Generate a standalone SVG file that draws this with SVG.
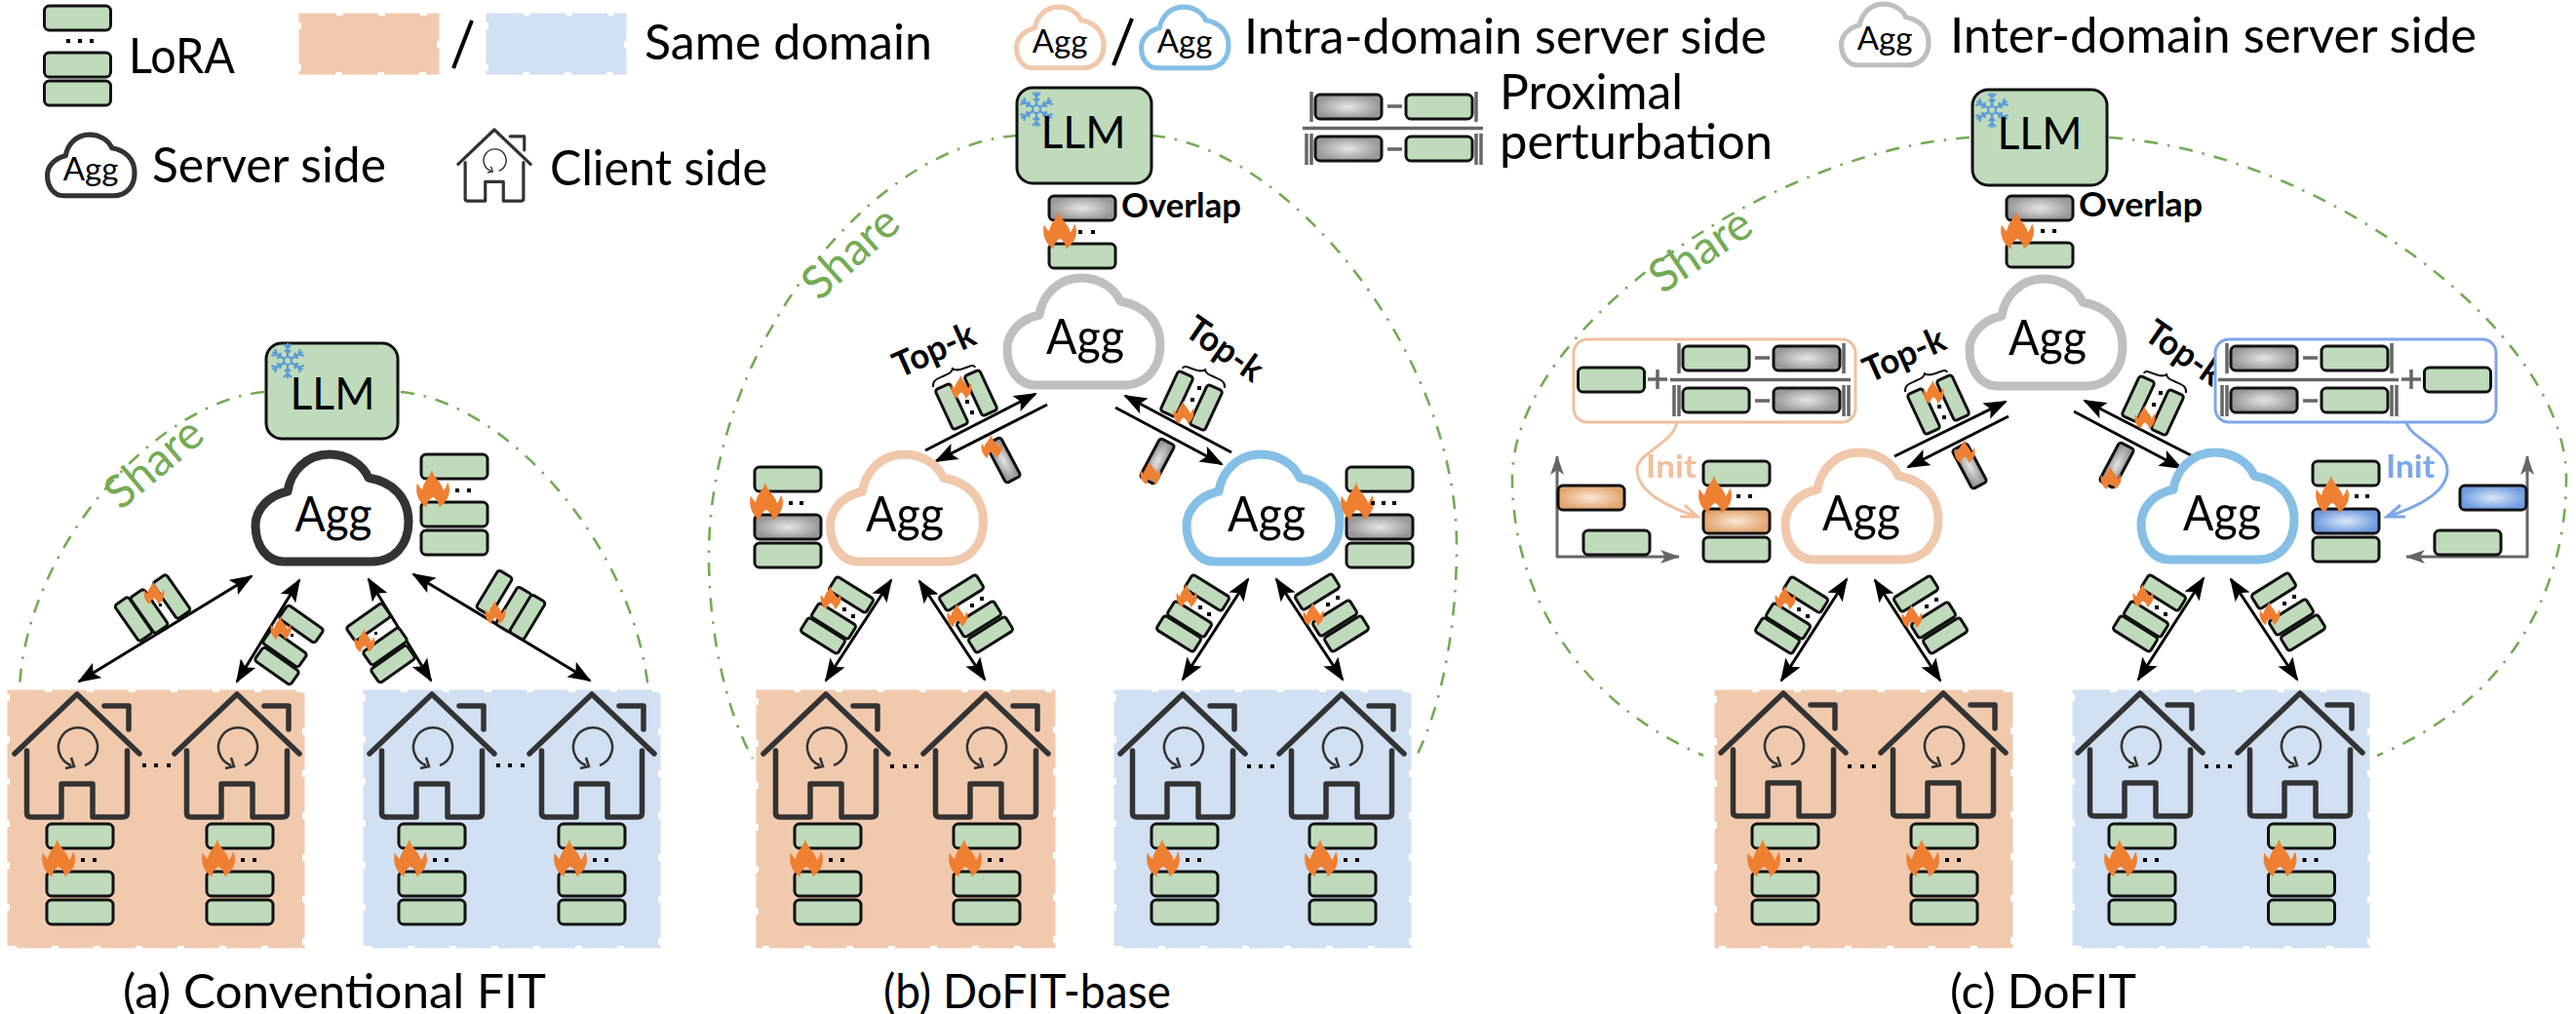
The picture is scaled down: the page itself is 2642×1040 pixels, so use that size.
<svg xmlns="http://www.w3.org/2000/svg" width="2642" height="1040" viewBox="0 0 2642 1040">
<style>
text{font-family:Lato,"Open Sans",sans-serif;fill:#000}
.g{fill:#BFDBBC;stroke:#111;stroke-width:3}
.gy{fill:url(#rg);stroke:#111;stroke-width:3}
.or{fill:url(#ro);stroke:#111;stroke-width:3}
.bl{fill:url(#rb);stroke:#111;stroke-width:3}
.dom-o{fill:#F1CAAE;stroke:#F1CAAE;stroke-width:5;stroke-dasharray:36 7}
.dom-b{fill:#D1E0F2;stroke:#D1E0F2;stroke-width:5;stroke-dasharray:36 7}
.cl{fill:#fff;stroke-linejoin:round}
.k{stroke:#333;stroke-width:9}.cp{stroke:#F0C8AC;stroke-width:9}.cb{stroke:#85BFE6;stroke-width:9}.cg{stroke:#BFBFBF;stroke-width:9}
.h{fill:none;stroke:#333;stroke-width:5.5;stroke-linecap:round;stroke-linejoin:round}
.hc{fill:none;stroke:#333;stroke-width:2.5}
.share{fill:none;stroke:#74AB55;stroke-width:2.6;stroke-dasharray:14 10 2.5 10}
.ar{stroke:#000;stroke-width:3;fill:none}
.tx{font-size:47px;text-anchor:middle}
.leg{font-size:50px}
.cap{font-size:49px}
.agg{font-size:50px;text-anchor:middle}
.aggs{font-size:58px;text-anchor:middle}
.sh{font-size:47px;fill:#74AB55;text-anchor:middle}
.tk{font-size:36px;font-weight:700;text-anchor:middle}
.ov{font-size:34px;font-weight:700}
.op{stroke:#666;stroke-width:3.5;fill:none}
.ax{stroke:#666;stroke-width:3;fill:none;stroke-linejoin:round}
.dots{fill:#000}
</style>
<defs>
<radialGradient id="rg"><stop offset="0" stop-color="#E6E6E6"/><stop offset="1" stop-color="#989898"/></radialGradient>
<radialGradient id="ro"><stop offset="0" stop-color="#FBE7D8"/><stop offset="1" stop-color="#E2A56E"/></radialGradient>
<radialGradient id="rb"><stop offset="0" stop-color="#DDE8F8"/><stop offset="1" stop-color="#6E9BE0"/></radialGradient>
<marker id="a" viewBox="0 0 24 18" refX="22" refY="9" markerWidth="24" markerHeight="18" markerUnits="userSpaceOnUse" orient="auto-start-reverse"><path d="M0,0 L24,9 L0,18 L5,9Z" fill="#000"/></marker>
<marker id="ga" viewBox="0 0 20 14" refX="19" refY="7" markerWidth="20" markerHeight="14" markerUnits="userSpaceOnUse" orient="auto-start-reverse"><path d="M0,0 L20,7 L0,14 L5,7Z" fill="#666"/></marker>
<rect id="b" x="-34" y="0" width="68" height="25" rx="5"/>
<rect id="m" x="-22.5" y="-8.5" width="45" height="17" rx="3"/>
<path id="flame" fill="#EF7F31" transform="scale(1.08)" d="M-1,-18 C1,-9 9,-5 10,2 C12,0 13,-3 14,-6 C17,0 17,10 6,18 C6,13 3,10 0,8 C-3,10 -6,13 -6,18 C-14,13 -17,4 -15,-5 C-13,-2 -12,0 -10,1 C-9,-7 -3,-10 -1,-18 Z"/>
<path id="cloud" d="M-49,54 L41,54 C65,54 79,36 79,13 C79,-12 62,-28 38,-32 C32,-46 16,-56 -2,-56 C-26,-56 -42,-38 -45,-18 C-64,-14 -78,0 -78,17 C-78,38 -66,54 -49,54 Z"/>
<g id="house">
<path class="h" d="M-64,61 L0,0 L64,61"/>
<path class="h" d="M-51.5,58 V122 Q-51.5,126 -47,126 H-16 V92 H16 V126 H47 Q51.5,126 51.5,122 V58"/>
<path class="h" d="M28,12 H53 V36"/>
<path class="hc" d="M8,73 A20,20 0 1 0 -6,73 M-12,76 L-3,74 L-6,65"/>
</g>
<g id="stack">
<use href="#b" class="g" y="0"/><use href="#b" class="g" y="49"/><use href="#b" class="g" y="78"/>
<use href="#flame" x="-22" y="35"/>
<path class="dots" d="M1,35h4v4h-4zM13,35h4v4h-4z"/>
</g>
<g id="snow" fill="none" stroke="#5B9BD5" stroke-width="2.2">
<g id="sp"><path d="M0,-4 V-18 M-4,-17 L0,-13 L4,-17 M-3,-11 L0,-8 L3,-11"/></g>
<use href="#sp" transform="rotate(60)"/><use href="#sp" transform="rotate(120)"/><use href="#sp" transform="rotate(180)"/><use href="#sp" transform="rotate(240)"/><use href="#sp" transform="rotate(300)"/>
<circle r="4"/>
</g>
<g id="frl">
<path class="op" d="M-4,-3 V28 M165,-3 V28 M-13,34.500 H172 M-9,40 V72 M-4,40 V72 M165,40 V72 M170,40 V72 M74,12 H89 M74,56 H89"/>
</g>
<g id="frac-gy"><use href="#frl"/><use href="#b" class="gy" x="34" y="0"/><use href="#b" class="g" x="127" y="0"/><use href="#b" class="gy" x="34" y="43"/><use href="#b" class="g" x="127" y="43"/></g>
<g id="frac-gr"><use href="#frl"/><use href="#b" class="g" x="34" y="0"/><use href="#b" class="gy" x="127" y="0"/><use href="#b" class="g" x="34" y="43"/><use href="#b" class="gy" x="127" y="43"/></g>
<g id="miniL">
<use href="#m" class="g" transform="translate(18,-27) rotate(32)"/>
<use href="#m" class="g" transform="rotate(32)"/>
<use href="#m" class="g" transform="translate(-11,15) rotate(32)"/>
<use href="#flame" transform="translate(-3,-24) scale(.62)"/>
<path class="dots" d="M9,-14h4v4h-4zM18,-7h4v4h-4z"/>
</g>
<g id="miniR">
<use href="#m" class="g" transform="translate(-18,-27) rotate(-32)"/>
<use href="#m" class="g" transform="rotate(-32)"/>
<use href="#m" class="g" transform="translate(12,16) rotate(-32)"/>
<use href="#flame" transform="translate(-22,-4) scale(.62)"/>
<path class="dots" d="M-9,-16h4v4h-4zM1,-23h4v4h-4z"/>
</g>
<g id="topkL">
<use href="#m" class="g" transform="translate(-15,7) rotate(65)"/>
<use href="#m" class="g" transform="translate(15,-7) rotate(65)"/>
<use href="#flame" transform="translate(-5,-13) scale(.62)"/>
<path class="dots" d="M-1,0h4v4h-4zM4,11h4v4h-4z"/>
<path d="M-34,-13 C-35,-21 -28,-22 -22,-25 C-17,-27 -15,-28 -14,-32 C-11,-30 -8,-30 -3,-32 C3,-34 8,-37 9,-33" fill="none" stroke="#111" stroke-width="2"/>
</g>
<g id="topkR">
<use href="#m" class="g" transform="translate(-15,-7) rotate(-65)"/>
<use href="#m" class="g" transform="translate(15,7) rotate(-65)"/>
<use href="#flame" transform="translate(-8,12) scale(.62)"/>
<path class="dots" d="M6,-15h4v4h-4zM-1,-3h4v4h-4z"/>
<path d="M34,-13 C35,-21 28,-22 22,-25 C17,-27 15,-28 14,-32 C11,-30 8,-30 3,-32 C-3,-34 -8,-37 -9,-33" fill="none" stroke="#111" stroke-width="2"/>
</g>
</defs>
<rect width="2642" height="1040" fill="#fff"/>

<g id="domains">
<rect class="dom-o" x="309" y="16" width="139" height="58"/>
<rect class="dom-b" x="501" y="16" width="139" height="58"/>
<rect class="dom-o" x="10" y="710" width="300" height="260"/>
<rect class="dom-b" x="375" y="710" width="300" height="260"/>
<rect class="dom-o" x="778" y="710" width="302" height="260"/>
<rect class="dom-b" x="1145" y="710" width="300" height="260"/>
<rect class="dom-o" x="1761" y="710" width="301" height="260"/>
<rect class="dom-b" x="2128" y="710" width="300" height="260"/>
</g>

<g id="connectors">
<path class="share" d="M271,402 C160,412 28,560 20,705"/>
<path class="share" d="M411,402 C520,412 650,560 665,708"/>
<path class="share" d="M1043,139 C890,150 727,360 727,570 C727,650 745,730 772,778"/>
<path class="share" d="M1181,139 C1320,150 1494,360 1494,560 C1494,640 1480,720 1453,775"/>
<path class="share" d="M2020,141 C1810,155 1551,340 1551,490 C1551,610 1620,720 1747,775"/>
<path class="share" d="M2163,141 C2380,155 2632,340 2632,490 C2632,610 2570,720 2438,775"/>
<path class="ar" marker-start="url(#a)" marker-end="url(#a)" d="M258,591 L81,699"/>
<path class="ar" marker-start="url(#a)" marker-end="url(#a)" d="M307,595 L243,699"/>
<path class="ar" marker-start="url(#a)" marker-end="url(#a)" d="M378,594 L442,698"/>
<path class="ar" marker-start="url(#a)" marker-end="url(#a)" d="M424,589 L605,698"/>
<path class="ar" marker-start="url(#a)" marker-end="url(#a)" d="M914,595 L847,698"/>
<path class="ar" marker-start="url(#a)" marker-end="url(#a)" d="M943,596 L1010,697"/>
<path class="ar" marker-start="url(#a)" marker-end="url(#a)" d="M1280,594 L1213,697"/>
<path class="ar" marker-start="url(#a)" marker-end="url(#a)" d="M1309,594 L1377,697"/>
<path class="ar" marker-start="url(#a)" marker-end="url(#a)" d="M1894,594 L1827,698"/>
<path class="ar" marker-start="url(#a)" marker-end="url(#a)" d="M1923,595 L1990,698"/>
<path class="ar" marker-start="url(#a)" marker-end="url(#a)" d="M2260,593 L2193,697"/>
<path class="ar" marker-start="url(#a)" marker-end="url(#a)" d="M2288,594 L2356,697"/>
<path class="ar" marker-end="url(#a)" d="M949,462 L1062,404"/>
<path class="ar" marker-end="url(#a)" d="M1074,415 L960,473"/>
<path class="ar" marker-end="url(#a)" d="M1263,464 L1154,406"/>
<path class="ar" marker-end="url(#a)" d="M1144,418 L1253,476"/>
<path class="ar" marker-end="url(#a)" d="M1943,468 L2057,412"/>
<path class="ar" marker-end="url(#a)" d="M2060,427 L1957,479"/>
<path class="ar" marker-end="url(#a)" d="M2247,467 L2138,411"/>
<path class="ar" marker-end="url(#a)" d="M2127,422 L2237,480"/>
<path fill="none" stroke="#F0C09E" stroke-width="3" d="M1720,433 C1716,455 1678,465 1679,482 C1680,505 1710,520 1741,530 M1723,530 L1741,530 L1728,518"/>
<path fill="none" stroke="#7DA7E8" stroke-width="3" d="M2468,433 C2472,450 2510,460 2510,482 C2510,505 2480,520 2448,530 M2467,530 L2448,530 L2462,518"/>
<path class="ax" marker-start="url(#ga)" marker-end="url(#ga)" d="M1597,468 V571 H1722"/>
<path class="ax" marker-start="url(#ga)" marker-end="url(#ga)" d="M2592,468 V571 H2468"/>
</g>

<g id="legend-lora">
<use href="#b" class="g" x="79.500" y="6"/>
<path class="dots" d="M68,40h4v4h-4zM80,40h4v4h-4zM92,40h4v4h-4z"/>
<use href="#b" class="g" x="79.500" y="54"/><use href="#b" class="g" x="79.500" y="83"/>
<text class="leg" x="132" y="75" textLength="109" lengthAdjust="spacingAndGlyphs">LoRA</text>
</g>
<g id="legend-domain">
<path d="M465,70 L484,21" stroke="#000" stroke-width="4"/>
<text class="leg" x="661" y="61" textLength="295" lengthAdjust="spacingAndGlyphs">Same domain</text>
</g>
<g id="legend-server">
<g transform="translate(93,170) scale(.57)"><use href="#cloud" class="cl k"/><text class="aggs" y="26">Agg</text></g>
<text class="leg" x="156" y="187" textLength="240" lengthAdjust="spacingAndGlyphs">Server side</text>
</g>
<g id="legend-client">
<use href="#house" transform="translate(507,133) scale(.58)"/>
<text class="leg" x="564" y="190" textLength="223" lengthAdjust="spacingAndGlyphs">Client side</text>
</g>
<g id="legend-intra">
<g transform="translate(1087,39) scale(.57)"><use href="#cloud" class="cl cp"/><text class="aggs" y="26">Agg</text></g>
<path d="M1142,67 L1161,19" stroke="#000" stroke-width="4"/>
<g transform="translate(1215,39) scale(.57)"><use href="#cloud" class="cl cb"/><text class="aggs" y="26">Agg</text></g>
<text class="leg" x="1276" y="55" textLength="536" lengthAdjust="spacingAndGlyphs">Intra-domain server side</text>
</g>
<g id="legend-inter">
<g transform="translate(1933,36) scale(.57)"><use href="#cloud" class="cl cg"/><text class="aggs" y="26">Agg</text></g>
<text class="leg" x="2000" y="54" textLength="540" lengthAdjust="spacingAndGlyphs">Inter-domain server side</text>
</g>
<g id="legend-proximal">
<use href="#frac-gy" transform="translate(1349,97)"/>
<text class="leg" x="1538" y="112" textLength="188" lengthAdjust="spacingAndGlyphs">Proximal</text>
<text class="leg" x="1538" y="163" textLength="280" lengthAdjust="spacingAndGlyphs">perturbation</text>
</g>

<g id="panel-a">
<g id="a-llm"><rect x="273" y="352" width="135" height="98" rx="16" fill="#BFDBBC" stroke="#111" stroke-width="3"/><use href="#snow" transform="translate(295,370)"/><text class="tx" x="341" y="420" textLength="87" lengthAdjust="spacingAndGlyphs">LLM</text></g>
<g id="a-server"><use href="#cloud" class="cl k" transform="translate(340,522)"/><text class="agg" x="342" y="545" textLength="79" lengthAdjust="spacingAndGlyphs">Agg</text></g>
<use href="#stack" transform="translate(466,466)"/>
<g id="a-mini1"><use href="#m" class="g" transform="translate(137,635) rotate(55)"/><use href="#m" class="g" transform="translate(153,627) rotate(55)"/><use href="#m" class="g" transform="translate(176,612) rotate(55)"/><use href="#flame" transform="translate(158,608) scale(.62)"/><path class="dots" d="M163,619h3v3h-3z"/></g>
<g id="a-mini2"><use href="#m" class="g" transform="translate(309,640) rotate(35)"/><use href="#m" class="g" transform="translate(292,665) rotate(35)"/><use href="#m" class="g" transform="translate(284,683) rotate(35)"/><use href="#flame" transform="translate(288,644) scale(.62)"/><path class="dots" d="M298,650h3v3h-3z"/></g>
<g id="a-mini3"><use href="#m" class="g" transform="translate(378,638) rotate(-35)"/><use href="#m" class="g" transform="translate(395,663) rotate(-35)"/><use href="#m" class="g" transform="translate(403,681) rotate(-35)"/><use href="#flame" transform="translate(374,657) scale(.62)"/><path class="dots" d="M384,648h3v3h-3z"/></g>
<g id="a-mini4"><use href="#m" class="g" transform="translate(507,608) rotate(-59)"/><use href="#m" class="g" transform="translate(527,625) rotate(-59)"/><use href="#m" class="g" transform="translate(541,633) rotate(-59)"/><use href="#flame" transform="translate(508,628) scale(.62)"/></g>
<g id="a-client1"><use href="#house" transform="translate(79,712)"/><use href="#stack" transform="translate(82,845)"/></g>
<g id="a-client2"><use href="#house" transform="translate(243,712)"/><use href="#stack" transform="translate(246,845)"/></g>
<g id="a-client3"><use href="#house" transform="translate(443,712)"/><use href="#stack" transform="translate(443,845)"/></g>
<g id="a-client4"><use href="#house" transform="translate(607,712)"/><use href="#stack" transform="translate(607,845)"/></g>
<path class="dots" d="M146,783h4v4h-4zM158,783h4v4h-4zM171,783h4v4h-4zM509,783h4v4h-4zM521,783h4v4h-4zM534,783h4v4h-4z"/>
<text class="sh" transform="translate(168,487) rotate(-40)">Share</text>
<text class="cap" x="126" y="1034" textLength="434" lengthAdjust="spacingAndGlyphs">(a) Conventional FIT</text>
</g>

<g id="panel-b">
<g id="b-llm"><rect x="1043" y="90" width="138" height="98" rx="16" fill="#BFDBBC" stroke="#111" stroke-width="3"/><use href="#snow" transform="translate(1063,112)"/><text class="tx" x="1111" y="152" textLength="87" lengthAdjust="spacingAndGlyphs">LLM</text></g>
<g id="b-overlap"><use href="#b" class="gy" x="1110" y="201"/><use href="#b" class="g" x="1110" y="250"/><use href="#flame" x="1087" y="236"/><path class="dots" d="M1106,236h4v4h-4zM1119,236h4v4h-4z"/><text class="ov" x="1150" y="223" textLength="123" lengthAdjust="spacingAndGlyphs">Overlap</text></g>
<g id="b-inter"><use href="#cloud" class="cl cg" transform="translate(1111,341)"/><text class="agg" x="1113" y="363" textLength="80" lengthAdjust="spacingAndGlyphs">Agg</text></g>
<g id="b-topk-l"><use href="#topkL" transform="translate(991,410)"/><text class="tk" transform="translate(963,370) rotate(-24)" textLength="88" lengthAdjust="spacingAndGlyphs">Top-k</text><use href="#m" class="gy" transform="translate(1029,472) rotate(62)"/><use href="#flame" transform="translate(1017,458) scale(.62)"/></g>
<g id="b-topk-r"><use href="#topkR" transform="translate(1222,411)"/><text class="tk" transform="translate(1249,368) rotate(35)" textLength="88" lengthAdjust="spacingAndGlyphs">Top-k</text><use href="#m" class="gy" transform="translate(1187,473) rotate(-62)"/><use href="#flame" transform="translate(1180,485) scale(.62)"/></g>
<g id="b-intra-o"><use href="#cloud" class="cl cp" transform="translate(929.500,522)"/><text class="agg" x="928" y="545" textLength="80" lengthAdjust="spacingAndGlyphs">Agg</text></g>
<g id="b-stack-o"><use href="#b" class="g" x="808" y="479"/><use href="#b" class="gy" x="808" y="528"/><use href="#b" class="g" x="808" y="557"/><use href="#flame" x="786" y="514"/><path class="dots" d="M809,514h4v4h-4zM820,514h4v4h-4z"/></g>
<g id="b-intra-b"><use href="#cloud" class="cl cb" transform="translate(1295,522)"/><text class="agg" x="1299" y="545" textLength="80" lengthAdjust="spacingAndGlyphs">Agg</text></g>
<g id="b-stack-b"><use href="#b" class="g" x="1415" y="479"/><use href="#b" class="gy" x="1415" y="528"/><use href="#b" class="g" x="1415" y="557"/><use href="#flame" x="1392" y="514"/><path class="dots" d="M1406,514h4v4h-4zM1417,514h4v4h-4zM1428,514h4v4h-4z"/></g>
<use href="#miniL" transform="translate(855,637)"/><use href="#miniR" transform="translate(1004,635)"/>
<use href="#miniL" transform="translate(1220,635)"/><use href="#miniR" transform="translate(1369,634)"/>
<g id="b-client1"><use href="#house" transform="translate(847,712)"/><use href="#stack" transform="translate(849,845)"/></g>
<g id="b-client2"><use href="#house" transform="translate(1011,712)"/><use href="#stack" transform="translate(1012,845)"/></g>
<g id="b-client3"><use href="#house" transform="translate(1213,712)"/><use href="#stack" transform="translate(1215,845)"/></g>
<g id="b-client4"><use href="#house" transform="translate(1376,712)"/><use href="#stack" transform="translate(1377,845)"/></g>
<path class="dots" d="M913,784h4v4h-4zM926,784h4v4h-4zM938,784h4v4h-4zM1279,784h4v4h-4zM1291,784h4v4h-4zM1303,784h4v4h-4z"/>
<text class="sh" transform="translate(883,271) rotate(-42)">Share</text>
<text class="cap" x="906" y="1034" textLength="295" lengthAdjust="spacingAndGlyphs">(b) DoFIT-base</text>
</g>

<g id="panel-c">
<g id="c-llm"><rect x="2023" y="92" width="138" height="98" rx="16" fill="#BFDBBC" stroke="#111" stroke-width="3"/><use href="#snow" transform="translate(2043,113)"/><text class="tx" x="2092" y="153" textLength="87" lengthAdjust="spacingAndGlyphs">LLM</text></g>
<g id="c-overlap"><use href="#b" class="gy" x="2092" y="201"/><use href="#b" class="g" x="2092" y="249"/><use href="#flame" x="2069" y="236"/><path class="dots" d="M2093,235h4v4h-4zM2105,235h4v4h-4z"/><text class="ov" x="2132" y="222" textLength="127" lengthAdjust="spacingAndGlyphs">Overlap</text></g>
<g id="c-inter"><use href="#cloud" class="cl cg" transform="translate(2098,342)"/><text class="agg" x="2100" y="364" textLength="80" lengthAdjust="spacingAndGlyphs">Agg</text></g>
<g id="c-topk-l"><use href="#topkL" transform="translate(1988,415)"/><text class="tk" transform="translate(1958,375) rotate(-24)" textLength="88" lengthAdjust="spacingAndGlyphs">Top-k</text><use href="#m" class="gy" transform="translate(2020,478) rotate(62)"/><use href="#flame" transform="translate(2015,463) scale(.62)"/></g>
<g id="c-topk-r"><use href="#topkR" transform="translate(2208,416)"/><text class="tk" transform="translate(2233,372) rotate(35)" textLength="88" lengthAdjust="spacingAndGlyphs">Top-k</text><use href="#m" class="gy" transform="translate(2171,477) rotate(-62)"/><use href="#flame" transform="translate(2165,490) scale(.62)"/></g>
<g id="c-formula-o"><rect x="1614" y="348" width="289" height="85" rx="14" fill="#fff" stroke="#F0C09E" stroke-width="3"/><use href="#b" class="g" x="1652.500" y="377"/><path class="op" d="M1690,389 H1710 M1700,379 V399"/><use href="#frac-gr" transform="translate(1726,355)"/></g>
<g id="c-formula-b"><rect x="2272" y="348" width="288" height="85" rx="14" fill="#fff" stroke="#7DA7E8" stroke-width="3"/><use href="#frac-gy" transform="translate(2288,355)"/><path class="op" d="M2463,389 H2483 M2473,379 V399"/><use href="#b" class="g" x="2520.500" y="377"/></g>
<text font-size="33" font-weight="700" x="1688" y="490" style="fill:#F0C09E" textLength="52" lengthAdjust="spacingAndGlyphs">Init</text>
<text font-size="33" font-weight="700" x="2447" y="490" style="fill:#7DA7E8" textLength="50" lengthAdjust="spacingAndGlyphs">Init</text>
<g id="c-hist-o"><use href="#b" class="or" x="1632" y="498"/><use href="#b" class="g" x="1658" y="544"/></g>
<g id="c-hist-b"><use href="#b" class="bl" x="2557" y="498"/><use href="#b" class="g" x="2531" y="544"/></g>
<g id="c-intra-o"><use href="#cloud" class="cl cp" transform="translate(1909,520)"/><text class="agg" x="1909" y="544" textLength="80" lengthAdjust="spacingAndGlyphs">Agg</text></g>
<g id="c-stack-o"><use href="#b" class="g" x="1781" y="473"/><use href="#b" class="or" x="1781" y="522"/><use href="#b" class="g" x="1781" y="551"/><use href="#flame" x="1759" y="507"/><path class="dots" d="M1781,507h4v4h-4zM1793,507h4v4h-4z"/></g>
<g id="c-intra-b"><use href="#cloud" class="cl cb" transform="translate(2274,520)"/><text class="agg" x="2279" y="544" textLength="80" lengthAdjust="spacingAndGlyphs">Agg</text></g>
<g id="c-stack-b"><use href="#b" class="g" x="2406" y="473"/><use href="#b" class="bl" x="2406" y="522"/><use href="#b" class="g" x="2406" y="551"/><use href="#flame" x="2392" y="507"/><path class="dots" d="M2415,507h4v4h-4zM2426,507h4v4h-4z"/></g>
<use href="#miniL" transform="translate(1834,637)"/><use href="#miniR" transform="translate(1983,636)"/>
<use href="#miniL" transform="translate(2201,635)"/><use href="#miniR" transform="translate(2350,633)"/>
<g id="c-client1"><use href="#house" transform="translate(1829,711)"/><use href="#stack" transform="translate(1831,845)"/></g>
<g id="c-client2"><use href="#house" transform="translate(1993,711)"/><use href="#stack" transform="translate(1994,845)"/></g>
<g id="c-client3"><use href="#house" transform="translate(2195,711)"/><use href="#stack" transform="translate(2197,845)"/></g>
<g id="c-client4"><use href="#house" transform="translate(2359,711)"/><use href="#stack" transform="translate(2360.500,845)"/></g>
<path class="dots" d="M1895,784h4v4h-4zM1908,784h4v4h-4zM1920,784h4v4h-4zM2261,784h4v4h-4zM2273,784h4v4h-4zM2285,784h4v4h-4z"/>
<text class="sh" transform="translate(1753,270) rotate(-34)">Share</text>
<text class="cap" x="2000" y="1034" textLength="191" lengthAdjust="spacingAndGlyphs">(c) DoFIT</text>
</g>
</svg>
